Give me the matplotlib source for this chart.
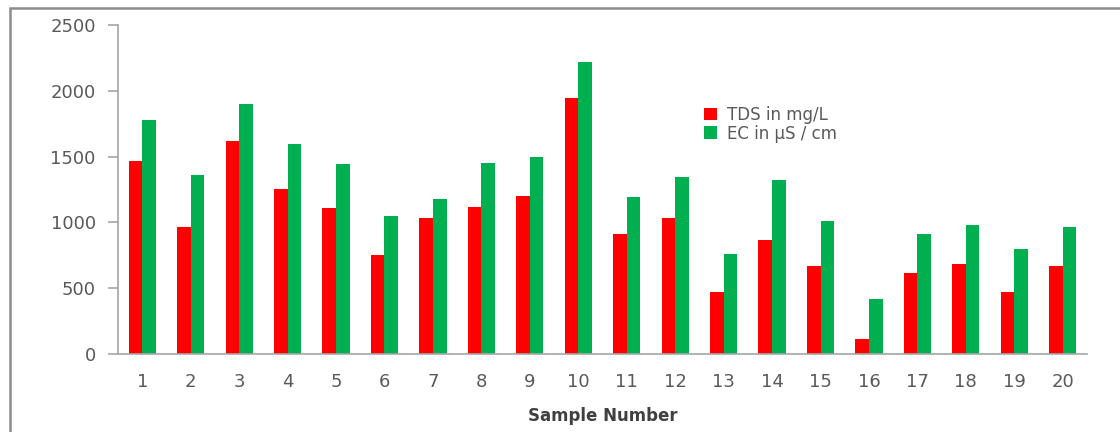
import matplotlib.pyplot as plt
import matplotlib.patches as mpatches
import numpy as np

samples = list(range(1, 21))
tds = [1466, 962, 1619, 1254, 1107, 752, 1036, 1114, 1203, 1942,
       912, 1036, 468, 869, 671, 111, 613, 684, 468, 671]
ec = [1778, 1360, 1897, 1593, 1441, 1049, 1175, 1454, 1497, 2219,
      1193, 1345, 762, 1319, 1011, 415, 909, 983, 795, 965]

grey = '#595959'
x = np.arange(len(samples)) + 1
w = 0.28

fig = plt.figure(figsize=(11.2, 4.32), dpi=100)
ax = fig.add_axes([0.1054, 0.1806, 0.8651, 0.7614])

ax.bar(x - w / 2, tds, width=w, color='#FF0000', label='TDS in mg/L')
ax.bar(x + w / 2, ec, width=w, color='#00B050', label='EC in µS / cm')

ax.set_xlim(0.5, 20.5)
ax.set_ylim(0, 2500)
ax.set_yticks(range(0, 2501, 500))
ax.set_xticks(x)
ax.set_xticklabels([str(s) for s in samples])

for side in ['top', 'right']:
    ax.spines[side].set_visible(False)
for side in ['left', 'bottom']:
    ax.spines[side].set_color('#a6a6a6')
    ax.spines[side].set_linewidth(1.2)
ax.tick_params(axis='y', colors='#a6a6a6', length=7, width=1.2, labelcolor=grey,
               labelsize=13, pad=9)
ax.tick_params(axis='x', length=0, labelcolor=grey, labelsize=13, pad=14)

ax.set_xlabel('Sample Number', fontsize=12, fontweight='bold', color='#404040', labelpad=11)

ax.legend(loc='upper left', bbox_to_anchor=(0.598, 0.775), frameon=False,
          fontsize=12, labelcolor=grey, handlelength=0.8, handleheight=0.8,
          handletextpad=0.6, labelspacing=0.05, borderaxespad=0)

# outer chart border
border = mpatches.Rectangle((10 / 1120, -0.05), 1.2, 1 - 8 / 432 + 0.05,
                            transform=fig.transFigure, fill=False,
                            edgecolor='#8c8c8c', linewidth=1.8, clip_on=False)
fig.patches.append(border)

fig.savefig('out.png', dpi=100)
